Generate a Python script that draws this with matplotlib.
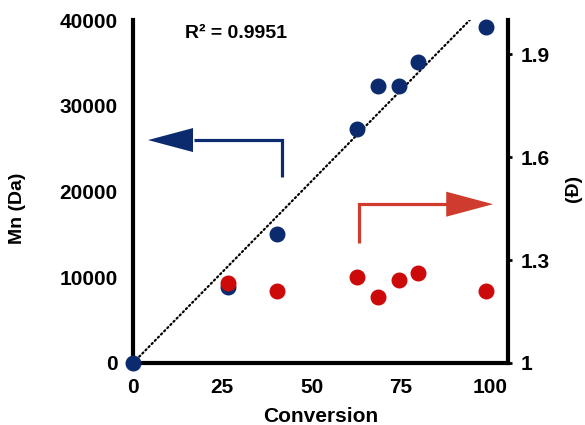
import numpy as np
import matplotlib.pyplot as plt
from matplotlib.patches import FancyArrow

plt.rcParams['font.family'] = ['Liberation Sans', 'DejaVu Sans']
plt.rcParams['font.weight'] = 'bold'

# conversion (%), Mn (Da) and dispersity
conversion = [0, 26.6, 40.3, 62.7, 68.6, 74.5, 79.8, 98.9]
mn = [0, 8900, 15100, 27300, 32300, 32300, 35100, 39200]
conv_d = [26.6, 40.3, 62.7, 68.6, 74.5, 79.8, 98.9]
dispersity = [1.233, 1.21, 1.25, 1.192, 1.242, 1.262, 1.21]

x_ticks = [0, 25, 50, 75, 100]
mn_ticks = [0, 10000, 20000, 30000, 40000]
d_ticks = [1, 1.3, 1.6, 1.9]
r2_label = 'R² = 0.9951'

navy = '#0b2b6e'
red = '#cc0a0a'
arrow_red = '#cf3b2c'

fig = plt.figure(figsize=(5.85, 4.25), dpi=100)
ax = fig.add_axes([0.2274, 0.1459, 0.6410, 0.8070])
ax2 = ax.twinx()

# linear trendline through the origin
xs = np.array(conversion)
ys = np.array(mn)
slope = np.sum(xs * ys) / np.sum(xs * xs)
x_end = 40000 / slope
ax.plot([0, x_end], [0, slope * x_end], color='black', lw=1.6,
        linestyle=(0, (0.6, 1.4)), dash_capstyle='round')

ax.scatter(conversion, mn, s=110, color=navy, zorder=3, clip_on=False)
ax2.scatter(conv_d, dispersity, s=110, color=red, zorder=3, clip_on=False)

ax.set_xlim(0, 105)
ax.set_ylim(0, 40000)
ax2.set_ylim(1, 2)
ax.set_xticks(x_ticks)
ax.set_yticks(mn_ticks)
ax2.set_yticks(d_ticks)
ax2.set_yticklabels(['1', '1.3', '1.6', '1.9'])

for a in (ax, ax2):
    a.spines['top'].set_visible(False)
    for s in a.spines.values():
        s.set_linewidth(3)
ax.spines['right'].set_visible(False)
ax2.spines['left'].set_visible(False)
ax2.spines['bottom'].set_visible(False)

ax.tick_params(axis='y', length=0, labelsize=15, pad=11)
ax.tick_params(axis='x', length=0, labelsize=15, pad=11)
ax2.tick_params(axis='y', length=3, width=2, labelsize=15, pad=6)

ax.set_xlabel('Conversion', fontsize=15, fontweight='bold', labelpad=7)
ax.set_ylabel('Mn (Da)', fontsize=14, fontweight='bold')
ax.yaxis.set_label_coords(-0.285, 0.452)
ax2.set_ylabel('(Đ)', fontsize=14, fontweight='bold')
ax2.yaxis.set_label_coords(1.152, 0.51)

ax.text(14.6, 37900, r2_label, fontsize=14, fontweight='bold')

# bent arrows pointing to the matching axes
ax.plot([41.7, 41.7, 17], [21700, 26000, 26000], color=navy, lw=2.3,
        solid_capstyle='butt', solid_joinstyle='miter')
ax.add_patch(FancyArrow(17.5, 26000, -13.3, 0, width=0, head_width=2800,
                        head_length=12.6, length_includes_head=True,
                        color=navy, lw=0))
ax2.plot([63.3, 63.3, 88.5], [1.35, 1.463, 1.463], color=arrow_red, lw=2.3,
         solid_capstyle='butt', solid_joinstyle='miter')
ax2.add_patch(FancyArrow(87.5, 1.463, 13.3, 0, width=0, head_width=0.073,
                         head_length=13.1, length_includes_head=True,
                         color=arrow_red, lw=0))

fig.savefig('out.png', dpi=100)
